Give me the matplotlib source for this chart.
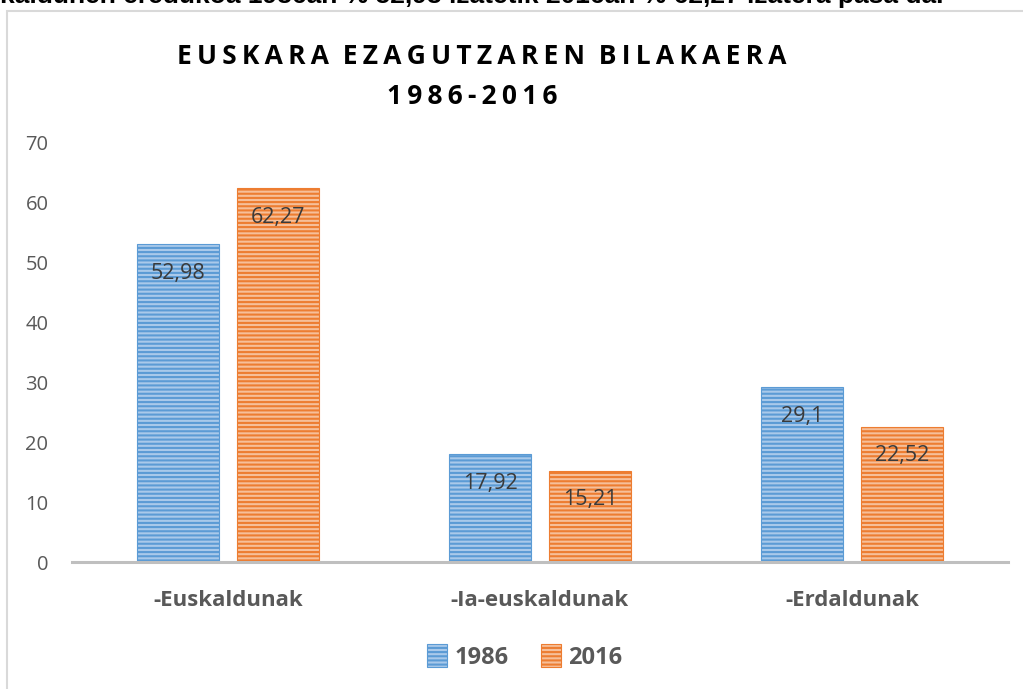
"""Euskara ezagutzaren bilakaera 1986-2016, bar chart."""

import matplotlib.pyplot as plt
import numpy as np
from matplotlib.patches import Rectangle

categories = ["-Euskaldunak", "-Ia-euskaldunak", "-Erdaldunak"]
years = ["1986", "2016"]
values_1986 = [52.98, 17.92, 29.1]
values_2016 = [62.27, 15.21, 22.52]
yticks = [0, 10, 20, 30, 40, 50, 60, 70]

title_lines = ["EUSKARA EZAGUTZAREN BILAKAERA", "1986-2016"]
top_text = "kaldunen eredukoa 1986an % 52,98 izatetik 2016an % 62,27 izatera pasa da."

face_colors = ["#a9c9ea", "#f6bf99"]
hatch_colors = ["#5b9bd5", "#ed7d31"]
text_gray = "#595959"


def spaced(text: str) -> str:
    """Imitate the wide letter spacing of the original title."""
    return "\u2009".join(text).replace("\u2009 \u2009", "  ")


def fmt(value: float) -> str:
    return f"{value:g}".replace(".", ",")


plt.rcParams["font.family"] = ["Open Sans", "DejaVu Sans"]
plt.rcParams["hatch.linewidth"] = 1.5

fig = plt.figure(figsize=(10.23, 6.89), dpi=100)
ax = fig.add_axes([0.0704, 0.1843, 0.9149, 0.6096])

# outer frame of the embedded chart
fig.patches.append(
    Rectangle((7 / 1023, -0.2), 1.2, 1.2 - 11 / 689,
              transform=fig.transFigure, fill=False,
              edgecolor="#d9d9d9", linewidth=1.5, zorder=0)
)

x = np.arange(len(categories))
width = 0.262
offset = 0.16
for i, (vals, label) in enumerate(zip([values_1986, values_2016], years)):
    pos = x + (offset if i else -offset)
    bars = ax.bar(pos, vals, width, color=face_colors[i], edgecolor=hatch_colors[i],
                  hatch="----", linewidth=0.8, label=label, zorder=2)
    for bar, v in zip(bars, vals):
        ax.annotate(fmt(v), (bar.get_x() + bar.get_width() / 2, v),
                    xytext=(0, -29), textcoords="offset pixels",
                    ha="center", va="center", fontsize=15.5, color="#3a3a3a", zorder=3)

ax.set_xlim(-0.5, 2.5)
ax.set_ylim(0, 70)
ax.set_yticks(yticks)
ax.set_xticks(x)
ax.set_xticklabels(categories, fontsize=16, fontweight="bold", color=text_gray)
ax.tick_params(axis="y", length=0, labelsize=14.5, labelcolor=text_gray, pad=17)
ax.tick_params(axis="x", length=0, pad=20)
for side in ["top", "right", "left"]:
    ax.spines[side].set_visible(False)
ax.spines["bottom"].set_color("#bfbfbf")
ax.spines["bottom"].set_linewidth(2.2)
ax.spines["bottom"].set_zorder(4)

fig.text(0.471, 1 - 57 / 689, spaced(title_lines[0]),
         ha="center", va="center", fontsize=19, fontweight="bold", color="black")
fig.text(0.462, 1 - 97 / 689, spaced(title_lines[1]),
         ha="center", va="center", fontsize=19, fontweight="bold", color="black")

fig.text(0.0, 1 - 3 / 689, top_text, ha="left", va="baseline",
         fontsize=19, fontweight="bold", color="black", family="Liberation Sans")

leg = fig.legend(loc="center", bbox_to_anchor=(0.513, 1 - 657 / 689), ncol=2,
                 frameon=False, handlelength=0.85, handleheight=1.1,
                 handletextpad=0.3, columnspacing=1.4,
                 prop={"size": 17, "weight": "bold"})
for t in leg.get_texts():
    t.set_color(text_gray)

fig.savefig("out.png", dpi=100)
